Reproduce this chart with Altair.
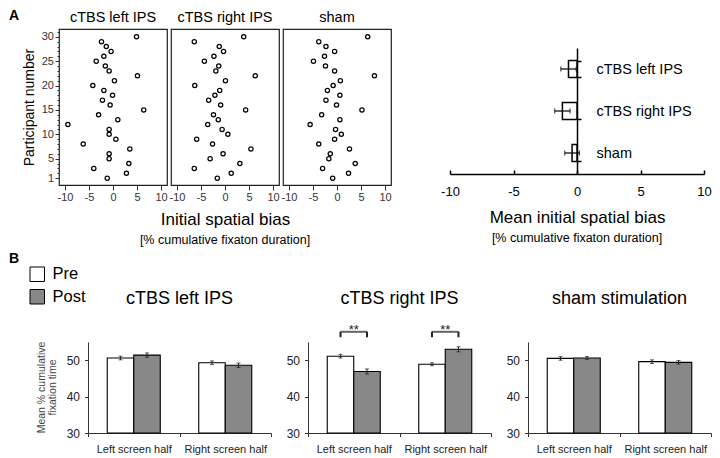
import altair as alt
import pandas as pd

FONT = "Liberation Sans"

# ---------------- data: panel A ----------------
participants = list(range(1, 31))
bias_left_ips = [-1.2, 2.8, -4.0, 3.3, -0.8, -0.8, 3.5, -6.2, 0.6, -0.8,
                 -0.8, -9.4, 1.0, -3.0, 6.4, -0.6, -2.2, -0.1, -1.9, -4.2,
                 0.3, 5.1, -0.8, -1.6, -3.5, -1.9, -0.4, -1.4, -2.4, 4.9]
bias_right_ips = [-1.6, 1.3, -6.4, 3.1, -3.1, -0.4, 5.4, -2.6, -5.9, 0.6,
                  -0.6, -3.6, -1.4, -2.4, 4.3, -0.9, -3.4, -2.1, -1.1, -6.3,
                  0.1, 6.3, -1.9, -1.3, -4.3, -2.3, -0.3, -1.2, -6.4, 3.9]
bias_sham = [-0.9, 2.4, -3.0, 3.8, -1.7, -1.4, 2.6, -3.8, -0.5, 0.9,
             -0.3, -5.6, 0.6, -3.2, 5.2, -0.1, -2.3, 0.6, -2.0, -0.8,
             0.7, 7.8, -0.5, -2.4, -4.9, -2.6, -0.5, -2.3, -3.8, 6.4]
conditions = ["cTBS left IPS", "cTBS right IPS", "sham"]
biases = [bias_left_ips, bias_right_ips, bias_sham]
bias_ticks = [-10, -5, 0, 5, 10]
participant_ticks = list(range(1, 32))

# ---------------- data: panel B ----------------
halves = ["Left screen half", "Right screen half"]
sessions = ["Pre", "Post"]
b_titles = ["cTBS left IPS", "cTBS right IPS", "sham stimulation"]
b_ytitle = ["Mean % cumulative", "fixation time"]
pre_means = [[50.6, 49.3], [51.1, 48.9], [50.5, 49.6]]
post_means = [[51.4, 48.6], [46.9, 53.0], [50.6, 49.4]]
pre_se = [[0.5, 0.5], [0.5, 0.4], [0.5, 0.5]]
post_se = [[0.6, 0.6], [0.7, 0.7], [0.4, 0.5]]
significant = [[], ["Left screen half", "Right screen half"], []]
bracket_leg = 56.3
bracket_top = 57.8
fix_ticks = [30, 40, 50]

POST_GREY = "#888888"
HYPHEN_LABEL = "'' + datum.value"


def text_layer(txt, x, y, size, weight="normal", baseline="alphabetic", align="center", color="black",
               angle=0):
    return alt.Chart(pd.DataFrame({"t": [txt]})).mark_text(
        font=FONT, fontSize=size, fontWeight=weight, baseline=baseline, align=align, color=color,
        angle=angle
    ).encode(x=alt.value(x), y=alt.value(y), text="t:N")


# ---------------- scatter panels ----------------
SW, SH = 108, 156


def scatter(i):
    df = pd.DataFrame({"participant": participants, "bias": biases[i]})
    xkw = dict(values=bias_ticks, tickSize=5, tickColor="#333", tickWidth=1, domain=False, grid=False,
               labelFontSize=11, labelColor="#333", labelPadding=1, labelFlush=False, labelOverlap=False,
               labelExpr=HYPHEN_LABEL)
    if i == 1:
        xkw.update(title="Initial spatial bias", titleFontSize=17, titleFontWeight="normal",
                   titleColor="black", titlePadding=9)
    else:
        xkw.update(title=None)
    xenc = alt.X("bias:Q", scale=alt.Scale(domain=[-11.25, 11.25], nice=False), axis=alt.Axis(**xkw))
    ysc = alt.Scale(domain=[-0.4, 31.6], nice=False)
    if i == 0:
        major = "datum.value == 1 || datum.value % 5 == 0"
        yenc = alt.Y("participant:Q", scale=ysc, axis=alt.Axis(
            values=participant_ticks,
            tickSize={"condition": {"test": major, "value": 4}, "value": 2},
            tickColor="#333", tickWidth=1, domain=False, grid=False,
            labelExpr="(" + major + ") && datum.value <= 30 ? datum.label : ''",
            labelFontSize=11, labelColor="#333", labelPadding=1.5, labelOverlap=False, labelFlush=False,
            title="Participant number", titleFontSize=14, titleFontWeight="normal", titleColor="black",
            titlePadding=5))
    else:
        yenc = alt.Y("participant:Q", scale=ysc, axis=None)
    pts = alt.Chart(df).mark_point(shape="circle", size=18, filled=False, stroke="black",
                                   strokeWidth=1.25, opacity=1).encode(x=xenc, y=yenc)
    layers = [pts, text_layer(conditions[i], SW / 2, -7, 14.5)]
    if i == 0:
        layers.append(text_layer("A", -50, -20, 14, weight="bold", baseline="top", align="left"))
    if i == 1:
        layers.append(text_layer("[% cumulative fixaton duration]", SW / 2, SH + 59, 12.5))
    return alt.layer(*layers).properties(
        width=SW, height=SH, view=alt.ViewBackground(stroke="#222", strokeWidth=1.2))


# ---------------- mean chart ----------------
MW, MH = 309, 145
long_df = pd.DataFrame({
    "condition": [c for c, b in zip(conditions, biases) for _ in b],
    "bias": [v for b in biases for v in b],
})
mx_scale = alt.Scale(domain=[-10, 10], range=[55, MW], nice=False)
my_scale = alt.Scale(domain=conditions, range=[19, MH], paddingInner=0.6, paddingOuter=0.3)
mbase = alt.Chart(long_df)
mbars = mbase.mark_bar(fill="white", stroke="black", strokeWidth=1.5).encode(
    x=alt.X("mean(bias):Q", scale=mx_scale, axis=alt.Axis(
        values=bias_ticks, ticks=False, tickSize=0, grid=False, domainColor="black", domainWidth=1.5,
        labelFontSize=13, labelColor="black", labelPadding=11.5, labelFlush=False,
        labelExpr=HYPHEN_LABEL,
        title="Mean initial spatial bias", titleFontSize=17, titleFontWeight="normal",
        titleColor="black", titlePadding=11)),
    x2=alt.datum(0),
    y=alt.Y("condition:N", sort=conditions, scale=my_scale, axis=alt.Axis(
        orient="right", offset=-127, tickBand="extent", tickSize=4, tickColor="black", tickWidth=1.5,
        domainColor="black", domainWidth=1.5, labelFontSize=14.5, labelColor="black", labelPadding=15,
        title=None)),
)
merr = mbase.transform_aggregate(
    m="mean(bias)", se="stderr(bias)", groupby=["condition"]
).transform_calculate(lo="datum.m - datum.se", hi="datum.m + datum.se")
mrule = merr.mark_rule(color="black", strokeWidth=1.2).encode(
    x=alt.X("lo:Q", scale=mx_scale, axis=None), x2="hi:Q",
    y=alt.Y("condition:N", sort=conditions, scale=my_scale))
mcaps = merr.transform_fold(["lo", "hi"], as_=["k", "v"]).mark_tick(
    color="black", thickness=1.2, size=5).encode(
    x=alt.X("v:Q", scale=mx_scale, axis=alt.Axis(
        orient="top", offset=-MH, values=bias_ticks, labels=False, domain=False, grid=False,
        tickSize=4, tickColor="black", tickWidth=1.5, title=None)),
    y=alt.Y("condition:N", sort=conditions, scale=my_scale))
msub = text_layer("[% cumulative fixaton duration]", 182, MH + 68, 12.5)
mean_chart = alt.layer(mbars, mrule, mcaps, msub).resolve_axis(x="independent").properties(
    width=MW, height=MH)

# ---------------- bar charts (B) ----------------
BL = 29            # blank strip left of each bar chart's plot
BW, BH = 212, 91


def barchart(i):
    rows = []
    for h, half in enumerate(halves):
        rows.append(dict(half=half, session="Pre", value=pre_means[i][h], se=pre_se[i][h]))
        rows.append(dict(half=half, session="Post", value=post_means[i][h], se=post_se[i][h]))
    df = pd.DataFrame(rows)
    xsc = alt.Scale(domain=halves, range=[BL, BW], paddingInner=0, paddingOuter=0)
    xo = alt.XOffset("session:N", scale=alt.Scale(domain=sessions, paddingInner=0, paddingOuter=0.726))
    ysc = alt.Scale(domain=[30, 55], nice=False)
    xplain = alt.X("half:N", scale=xsc)

    ykw = dict(values=fix_ticks, tickSize=3.5, tickColor="#333", domainColor="#333", grid=False,
               labelFontSize=12, labelColor="#222", labelPadding=5, offset=-BL, title=None)
    fscale = alt.Scale(domain=sessions, range=["white", POST_GREY])
    if i == 0:
        fill_legend = alt.Legend(
            orient="none", legendX=BL - 59, legendY=-76, title=None, symbolType="square", symbolSize=210,
            symbolStrokeColor="black", symbolStrokeWidth=1, symbolOpacity=1, labelFontSize=16.5,
            labelColor="black", labelOffset=7, rowPadding=3.5, padding=0, labelFont=FONT)
        fill = alt.Fill("session:N", scale=fscale, legend=fill_legend)
    else:
        fill = alt.Fill("session:N", scale=fscale, legend=None)
    base = alt.Chart(df)
    bars = base.mark_bar(stroke="black", strokeWidth=1.1).encode(
        x=alt.X("half:N", scale=xsc, axis=alt.Axis(
            title=None, labelAngle=0, tickBand="extent", tickSize=3.5, tickColor="#333",
            domainColor="#333", labelFontSize=11, labelColor="#222", labelPadding=7)),
        xOffset=xo,
        y=alt.Y("value:Q", scale=ysc, axis=alt.Axis(**ykw)),
        y2=alt.datum(30),
        fill=fill,
    )
    eb = base.transform_calculate(lo="datum.value - datum.se", hi="datum.value + datum.se")
    erule = eb.mark_rule(color="#222", strokeWidth=1).encode(
        x=xplain, xOffset=xo, y=alt.Y("lo:Q", scale=ysc), y2="hi:Q")
    ecaps = eb.transform_fold(["lo", "hi"], as_=["k", "v"]).mark_tick(
        color="#222", thickness=1, size=4).encode(
        x=xplain, xOffset=xo, y=alt.Y("v:Q", scale=ysc))
    layers = [bars, erule, ecaps]
    if significant[i]:
        legs = pd.DataFrame([dict(half=h, session=s, y0=bracket_leg, y1=bracket_top)
                             for h in significant[i] for s in sessions])
        tops = pd.DataFrame([dict(half=h, y=bracket_top, star="**") for h in significant[i]])
        layers.append(alt.Chart(legs).mark_rule(color="#222", strokeWidth=2).encode(
            x=xplain, xOffset=xo, y=alt.Y("y0:Q", scale=ysc), y2="y1:Q"))
        layers.append(alt.Chart(tops).mark_tick(color="#222", thickness=2, size=27).encode(
            x=xplain, y=alt.Y("y:Q", scale=ysc)))
        layers.append(alt.Chart(tops).mark_text(font=FONT, fontSize=13, baseline="alphabetic", dy=2,
                                                color="#222").encode(
            x=xplain, y=alt.Y("y:Q", scale=ysc), text="star:N"))
    layers.append(text_layer(b_titles[i], BL + (BW - BL) / 2, -38, 18))
    if i == 0:
        layers.append(text_layer("B", BL - 79, -90, 14, weight="bold", baseline="top", align="left"))
        layers.append(text_layer(b_ytitle[0], BL - 46, BH / 2, 10.5, baseline="middle",
                                 color="#444", angle=270))
        layers.append(text_layer(b_ytitle[1], BL - 35, BH / 2, 10.5, baseline="middle",
                                 color="#444", angle=270))
    return alt.layer(*layers).properties(width=BW, height=BH)


rowA = alt.hconcat(scatter(0), scatter(1), scatter(2), mean_chart, spacing=4, bounds="flush").resolve_scale(
    x="independent", y="independent")
rowB = alt.hconcat(barchart(0), barchart(1), barchart(2), spacing=8, bounds="flush").resolve_scale(
    x="independent", y="independent", fill="independent")

chart = alt.vconcat(rowA, rowB, spacing=4, bounds="full").resolve_scale(
    x="independent", y="independent").properties(padding=0).configure_view(
    stroke=None).configure_axis(labelFont=FONT, titleFont=FONT).configure_legend(
    labelFont=FONT).configure_text(font=FONT)

chart.save("out.html", embed_options={"renderer": "svg", "actions": False})
